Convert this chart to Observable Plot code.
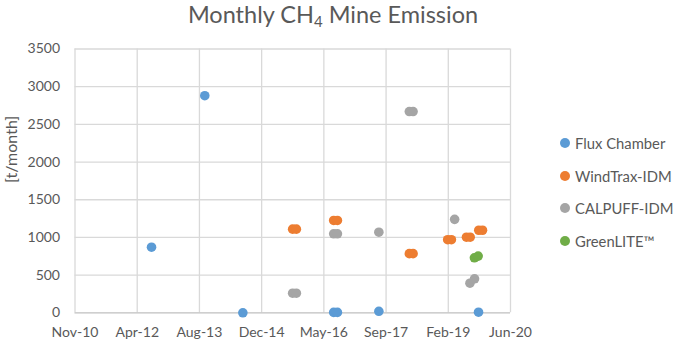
<!DOCTYPE html>
<html>
<head>
<meta charset="utf-8">
<script src="https://cdn.jsdelivr.net/npm/d3@7"></script>
<script src="https://cdn.jsdelivr.net/npm/@observablehq/plot@0.6"></script>
<style>
  body { margin: 0; background: #fff; font-family: Lato, "Open Sans", sans-serif; }
  #wrap { position: relative; width: 675px; height: 343px; background: #fff; overflow: hidden; }
  #title { position: absolute; left: 0; top: 0px; width: 666px; text-align: center; font-size: 23.5px; color: #595959; }
  #title sub { font-size: 15px; vertical-align: -4px; line-height: 0; }
  #chart { position: absolute; left: 0; top: 0; }
  .lg { position: absolute; left: 560px; font-size: 14.8px; color: #595959; display: flex; align-items: center; height: 20px; white-space: nowrap; }
  .lg span.sw { width: 10px; height: 10px; border-radius: 50%; display: inline-block; margin-right: 5px; }
</style>
</head>
<body>
<div id="wrap">
  <div id="chart"></div>
  <div id="title">Monthly CH<sub>4</sub> Mine Emission</div>
  <div id="legend"></div>
</div>
<script>
// ---- data ----
const seriesNames = ["Flux Chamber", "WindTrax-IDM", "CALPUFF-IDM", "GreenLITE™"];
const seriesColors = ["#5B9BD5", "#ED7D31", "#A5A5A5", "#70AD47"];

const fluxDates = ["2012-07-25", "2013-09-26", "2014-07-29", "2016-07-28", "2016-08-27", "2017-07-26", "2019-10-05"];
const fluxValues = [870, 2880, 0, 5, 5, 20, 8];

const windDates = ["2015-09-02", "2015-10-02", "2016-07-28", "2016-08-27", "2018-03-28", "2018-04-27",
                   "2019-01-30", "2019-03-01", "2019-06-30", "2019-07-30", "2019-10-07", "2019-11-06"];
const windValues = [1110, 1110, 1225, 1225, 785, 785, 970, 970, 1003, 1003, 1095, 1095];

const calDates = ["2015-09-02", "2015-10-02", "2016-07-28", "2016-08-27", "2017-07-26",
                  "2018-03-28", "2018-04-27", "2019-03-27", "2019-07-28", "2019-09-03"];
const calValues = [260, 260, 1048, 1048, 1069, 2670, 2670, 1240, 393, 451];

const greenDates = ["2019-09-02", "2019-10-02"];
const greenValues = [730, 752];

const xTickDates = ["2010-11-18", "2012-04-01", "2013-08-14", "2014-12-27", "2016-05-10", "2017-09-22", "2019-02-04", "2020-06-18"];
const yTicks = [0, 500, 1000, 1500, 2000, 2500, 3000, 3500];
const yLabel = "[t/month]";

// ---- build table ----
const allDates = [fluxDates, windDates, calDates, greenDates];
const allValues = [fluxValues, windValues, calValues, greenValues];
const rows = [];
allDates.forEach((ds, i) => ds.forEach((d, j) => rows.push({series: seriesNames[i], date: new Date(d + "T00:00:00Z"), value: allValues[i][j]})));
const xTicks = xTickDates.map(d => new Date(d + "T00:00:00Z"));
const fmt = d3.utcFormat("%b-%y");

const chart = Plot.plot({
  width: 675,
  height: 343,
  marginLeft: 74.5,
  marginRight: 165,
  marginTop: 48.5,
  marginBottom: 30.7,
  style: {fontFamily: "Lato, 'Open Sans', sans-serif", fontSize: "14px", color: "#595959", background: "transparent"},
  x: {type: "utc", domain: [xTicks[0], xTicks[xTicks.length - 1]]},
  y: {domain: [0, 3500]},
  color: {domain: seriesNames, range: seriesColors},
  marks: [
    Plot.ruleX(xTicks, {stroke: "#d9d9d9", strokeWidth: 1.3}),
    Plot.ruleY(yTicks.filter(v => v > 0), {stroke: "#d9d9d9", strokeWidth: 1.3}),
    Plot.ruleY([0], {stroke: "#bfbfbf", strokeWidth: 1.3}),
    Plot.axisX({ticks: xTicks, tickFormat: fmt, tickSize: 0, tickPadding: 14, label: null, fill: "#595959"}),
    Plot.axisY({ticks: yTicks, tickFormat: d => String(d), tickSize: 0, tickPadding: 15, label: null, fill: "#595959"}),
    Plot.text([yLabel], {frameAnchor: "left", dx: -63, dy: 2, rotate: -90, fontSize: 16, fill: "#595959"}),
    Plot.dot(rows, {x: "date", y: "value", fill: "series", r: 4.8, stroke: "none"})
  ]
});
document.getElementById("chart").appendChild(chart);

// ---- legend ----
const lg = document.getElementById("legend");
const legendY = [143, 175.5, 208, 240.5];
seriesNames.forEach((n, i) => {
  const el = document.createElement("div");
  el.className = "lg";
  el.style.top = (legendY[i] - 10) + "px";
  el.innerHTML = `<span class="sw" style="background:${seriesColors[i]}"></span>${n}`;
  lg.appendChild(el);
});
</script>
</body>
</html>
